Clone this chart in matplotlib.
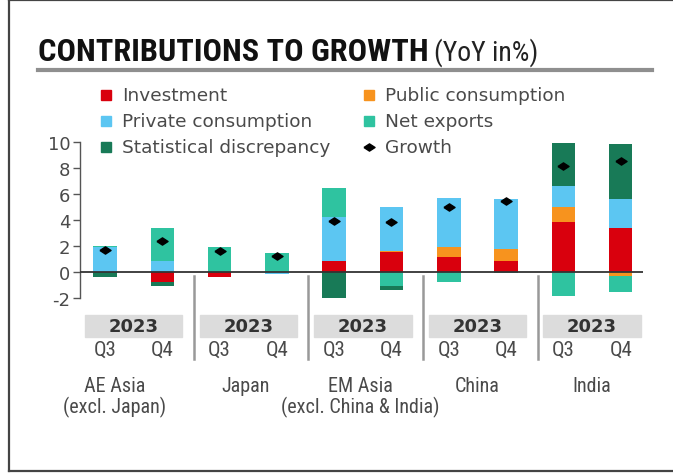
import numpy as np
import matplotlib.pyplot as plt
from matplotlib import transforms
from matplotlib.patches import Rectangle
from matplotlib.lines import Line2D

plt.rcParams['axes.unicode_minus'] = False

# data (YoY contributions, %)
groups = ['AE Asia\n(excl. Japan)', 'Japan', 'EM Asia\n(excl. China & India)', 'China', 'India']
quarters = ['Q3', 'Q4'] * 5
year = '2023'

investment = [0.0, -0.75, -0.35, 0.0, 0.82, 1.55, 1.17, 0.83, 3.88, 3.42]
public = [0.0, 0.0, 0.0, 0.0, 0.0, 0.08, 0.76, 0.97, 1.15, -0.30]
private = [1.90, 0.85, 0.0, -0.15, 3.44, 3.40, 3.73, 3.79, 1.57, 2.19]
net_exports = [0.12, 2.57, 1.96, 1.50, 2.17, -1.05, -0.75, -0.10, -1.86, -1.20]
stat_disc = [-0.40, -0.35, 0.0, 0.0, -2.50, -0.30, 0.0, 0.0, 3.35, 4.26]
growth = [1.71, 2.42, 1.63, 1.20, 3.95, 3.88, 4.97, 5.45, 8.16, 8.52]

series = [
    ('Investment', investment, '#d9000d'),
    ('Public consumption', public, '#f7931e'),
    ('Private consumption', private, '#5cc6f2'),
    ('Net exports', net_exports, '#2fc3a0'),
    ('Statistical discrepancy', stat_disc, '#187a57'),
]

W, H = 673, 477
fig = plt.figure(figsize=(W / 100, H / 100), dpi=100)
ax = fig.add_axes([80 / W, 1 - 299 / H, 563 / W, 156 / H])

TXT = '#4a4a4a'
NARROW = ['Roboto Condensed', 'DejaVu Sans']
x = np.arange(len(growth))
pos_base = np.zeros(len(x))
neg_base = np.zeros(len(x))
for name, vals, col in series:
    v = np.array(vals)
    base = np.where(v >= 0, pos_base, neg_base)
    ax.bar(x, v, width=0.41, bottom=base, color=col, zorder=2)
    pos_base += np.clip(v, 0, None)
    neg_base += np.clip(v, None, 0)

diamond = [(-1, 0), (0, 0.65), (1, 0), (0, -0.65), (-1, 0)]
ax.plot(x, growth, ls='none', marker=diamond, ms=8, color='black', zorder=4)

ax.axhline(0, color='#333333', lw=1.3, zorder=3)
ax.set_xlim(-0.436, 9.389)
ax.set_ylim(-2, 10)
ax.set_yticks(range(-2, 11, 2))
ax.set_xticks([])
for s in ['top', 'right', 'bottom']:
    ax.spines[s].set_visible(False)
ax.spines['left'].set_color('#555555')
ax.spines['left'].set_linewidth(1.0)
ax.tick_params(axis='y', length=5, width=1, color='#555555', pad=2,
               labelsize=13, labelcolor=TXT)

# category area below the plot (x in data, y in figure pixels)
tr = transforms.blended_transform_factory(ax.transData, fig.transFigure)
fy = lambda py: 1 - py / H

label_shift = [-0.33, -0.05, -0.05, 0, 0]
for g, name in enumerate(groups):
    x0 = 2 * g
    ax.add_patch(Rectangle((x0 - 0.35, fy(338)), 1.7, 22 / H, transform=tr,
                           color='#dcdcdc', clip_on=False, zorder=1))
    ax.text(x0 + 0.5, fy(327), year, transform=tr, ha='center', va='center',
            fontsize=13, fontweight='bold', color='#333333')
    ax.text(x0 + 0.5 + label_shift[g], fy(377), name, transform=tr, ha='center',
            va='top', fontsize=14.5, color=TXT, family=NARROW, linespacing=1.08)
    if g > 0:
        ax.add_line(Line2D([x0 - 0.45, x0 - 0.45], [fy(277), fy(360)], transform=tr,
                           color='#999999', lw=1.8, clip_on=False))

for i, q in enumerate(quarters):
    ax.text(x[i], fy(350), q, transform=tr, ha='center', va='center',
            fontsize=15, color=TXT, family=NARROW)

# legend, drawn by hand
legend_cols = [101, 364]
legend_rows = [96, 122, 148]
entries = [(0, 0, 0), (1, 0, 1), (0, 1, 2), (1, 1, 3), (0, 2, 4)]
for c, r, k in entries:
    name, _, col = series[k]
    px, py = legend_cols[c], legend_rows[r]
    fig.add_artist(Rectangle((px / W, fy(py + 5)), 10 / W, 10 / H,
                             transform=fig.transFigure, color=col))
    fig.text((px + 21) / W, fy(py), name, ha='left', va='center',
             fontsize=13.3, color=TXT)
fig.add_artist(Line2D([(legend_cols[1] + 5) / W], [fy(legend_rows[2])], ls='none',
                      marker=diamond, ms=8, color='black', transform=fig.transFigure))
fig.text((legend_cols[1] + 21) / W, fy(legend_rows[2]), 'Growth', ha='left', va='center',
         fontsize=13.3, color=TXT)

# title: shrink to the reference width (bold part ~390 px wide)
t1 = fig.text(38 / W, fy(61), 'CONTRIBUTIONS TO GROWTH', ha='left', va='baseline',
              fontsize=28, fontweight='bold', color='#111111', family=NARROW)
fig.canvas.draw()
w1 = t1.get_window_extent().width
t1.set_fontsize(min(28, 28 * 390 / w1))
fig.canvas.draw()
bb = t1.get_window_extent()
t2 = fig.text((bb.x1 + 5) / W, fy(61), '(YoY in%)', ha='left', va='baseline',
              fontsize=20, color='#222222', family=NARROW)
fig.canvas.draw()
w2 = t2.get_window_extent().width
t2.set_fontsize(min(20, 20 * (555 - bb.x1 - 5) / w2))
fig.add_artist(Line2D([38 / W, 652 / W], [fy(71), fy(71)], color='#8f8f8f', lw=3,
                      transform=fig.transFigure))

# frame: top, left and bottom rules only
frame = dict(color='#444444', lw=1.6, transform=fig.transFigure)
fig.add_artist(Line2D([8.5 / W, 1], [fy(1), fy(1)], **frame))
fig.add_artist(Line2D([8.5 / W, 8.5 / W], [fy(1), fy(472)], **frame))
fig.add_artist(Line2D([8.5 / W, 1], [fy(472), fy(472)], **frame))

fig.savefig('out.png', dpi=100)
